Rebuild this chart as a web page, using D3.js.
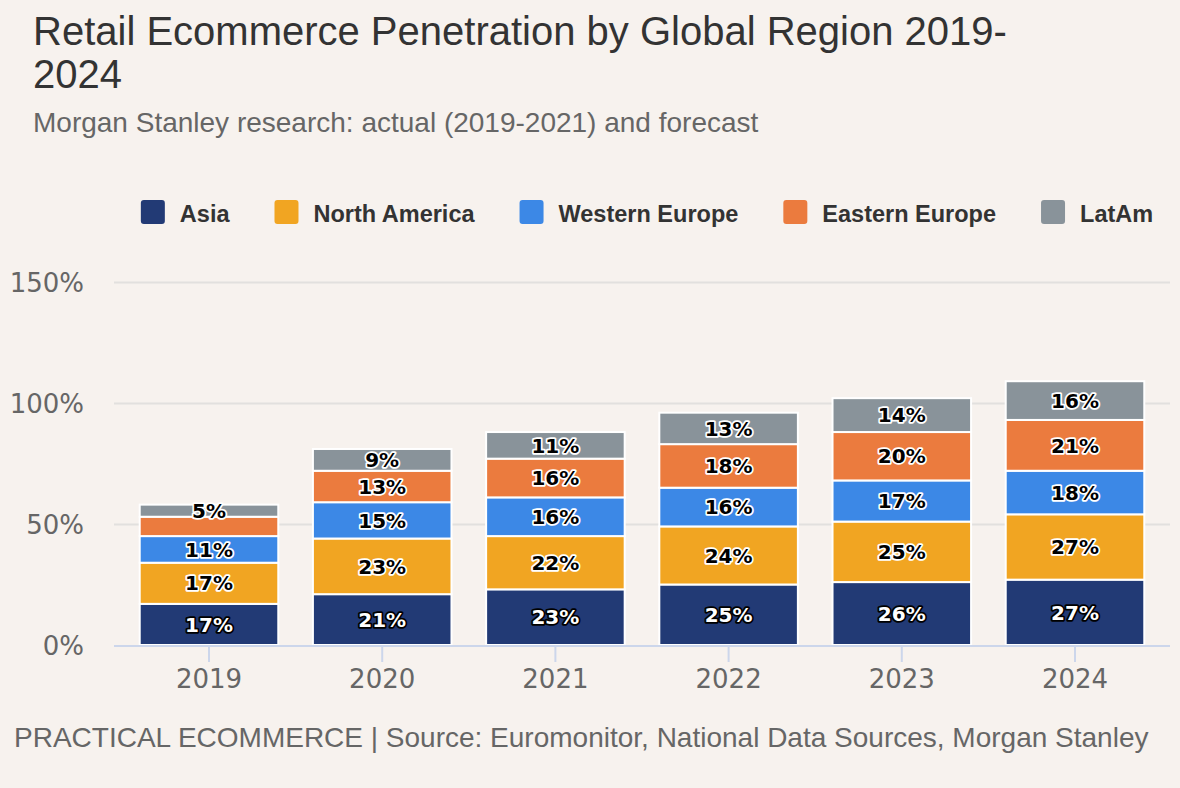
<!DOCTYPE html>
<html>
<head>
<meta charset="utf-8">
<script src="https://cdn.jsdelivr.net/npm/d3@7"></script>
<style>
  html, body { margin: 0; padding: 0; background: #f7f2ee; }
  svg { display: block; }
</style>
</head>
<body>
<svg id="chart" width="1180" height="788"></svg>
<script>
// ---- data ----
const years = ["2019", "2020", "2021", "2022", "2023", "2024"];
const seriesNames = ["Asia", "North America", "Western Europe", "Eastern Europe", "LatAm"];
const asia = [17, 21, 23, 25, 26, 27];
const northAmerica = [17, 23, 22, 24, 25, 27];
const westernEurope = [11, 15, 16, 16, 17, 18];
const easternEurope = [8, 13, 16, 18, 20, 21];
const latAm = [5, 9, 11, 13, 14, 16];
const yTicks = [0, 50, 100, 150];
const seriesColors = ["#223a75", "#f1a522", "#3c88e6", "#eb7b3e", "#89939a"];
const titleLines = ["Retail Ecommerce Penetration by Global Region 2019-", "2024"];
const subtitle = "Morgan Stanley research: actual (2019-2021) and forecast";
const footer = "PRACTICAL ECOMMERCE | Source: Euromonitor, National Data Sources, Morgan Stanley";

const seriesValues = [asia, northAmerica, westernEurope, easternEurope, latAm];
const rows = years.map((y, i) => {
  const r = { year: y };
  seriesNames.forEach((s, k) => r[s] = seriesValues[k][i]);
  return r;
});

const svg = d3.select("#chart");
svg.append("rect").attr("width", 1180).attr("height", 788).attr("fill", "#f7f2ee");

const plotLeft = 114, plotRight = 1170;
const x = d3.scaleBand().domain(years).range([122.4, 1161.6]).padding(0);
const y = d3.scaleLinear().domain([0, 150]).range([645, 282]);

// titles
const t = svg.append("text").attr("x", 33).attr("y", 45)
  .attr("font-family", "'Liberation Sans', Arial, sans-serif")
  .attr("font-size", 40).attr("fill", "#333333");
titleLines.forEach((l, i) => t.append("tspan").attr("x", 33).attr("dy", i === 0 ? 0 : 43).text(l));

svg.append("text").attr("x", 33).attr("y", 132)
  .attr("font-family", "'Liberation Sans', Arial, sans-serif")
  .attr("font-size", 28).attr("fill", "#666666").text(subtitle);

// gridlines
svg.append("g").selectAll("line").data(yTicks.filter(d => d > 0)).join("line")
  .attr("x1", plotLeft).attr("x2", plotRight)
  .attr("y1", d => Math.round(y(d)) + 0.5).attr("y2", d => Math.round(y(d)) + 0.5)
  .attr("stroke", "#e2e0de").attr("stroke-width", 2);

// y axis labels
const yAxis = d3.axisLeft(y).tickValues(yTicks).tickFormat(d => d + "%").tickSize(0).tickPadding(0);
const yg = svg.append("g").attr("transform", "translate(84,0)").call(yAxis);
yg.select(".domain").remove();
yg.selectAll("text").attr("font-family", "'DejaVu Sans', sans-serif").attr("font-size", 26)
  .attr("fill", "#666666").attr("dy", "0.36em");

// stacked bars
const stack = d3.stack().keys(seriesNames);
const stacked = stack(rows);
const barW = x.bandwidth() * 0.8;

const layers = svg.append("g").selectAll("g").data(stacked).join("g")
  .attr("fill", (d, i) => seriesColors[i]);
layers.selectAll("rect").data(d => d).join("rect")
  .attr("x", d => x(d.data.year) + (x.bandwidth() - barW) / 2)
  .attr("width", barW)
  .attr("y", d => y(d[1]))
  .attr("height", d => y(d[0]) - y(d[1]))
  .attr("stroke", "#ffffff").attr("stroke-width", 2);

// x axis
svg.append("line").attr("x1", plotLeft).attr("x2", plotRight).attr("y1", 646).attr("y2", 646)
  .attr("stroke", "#ccd6eb").attr("stroke-width", 2);
const xAxis = d3.axisBottom(x).tickSize(17).tickPadding(8);
const xg = svg.append("g").attr("transform", "translate(0,645)").call(xAxis);
xg.select(".domain").remove();
xg.selectAll(".tick line").attr("stroke", "#ccd6eb").attr("stroke-width", 2);
xg.selectAll("text").attr("font-family", "'DejaVu Sans', sans-serif").attr("font-size", 26)
  .attr("fill", "#666666");

// data labels with collision hiding (top series first)
const labelG = svg.append("g");
const placed = [];
const labelItems = [];
for (let k = stacked.length - 1; k >= 0; k--) {
  stacked[k].forEach(d => {
    const v = d[1] - d[0];
    const cx = x(d.data.year) + x.bandwidth() / 2;
    const cy = (y(d[0]) + y(d[1])) / 2;
    const box = { x0: cx - 26, x1: cx + 26, y0: cy - 11, y1: cy + 11 };
    const hit = placed.some(b => b.x0 < box.x1 && b.x1 > box.x0 && b.y0 < box.y1 && b.y1 > box.y0);
    if (!hit) { placed.push(box); labelItems.push({ k, v, cx, cy }); }
  });
}
labelG.selectAll("text").data(labelItems).join("text")
  .attr("x", d => d.cx).attr("y", d => d.cy).attr("dy", "0.36em")
  .attr("text-anchor", "middle")
  .attr("font-family", "'DejaVu Sans', sans-serif").attr("font-weight", "bold").attr("font-size", 20)
  .attr("fill", d => d.k === 0 ? "#ffffff" : "#000000")
  .attr("stroke", d => d.k === 0 ? "#000000" : "#ffffff")
  .attr("stroke-width", 3.5).attr("stroke-linejoin", "round")
  .attr("paint-order", "stroke")
  .text(d => d.v + "%");

// legend
const legend = svg.append("g");
const items = legend.selectAll("g").data(seriesNames).join("g");
items.append("rect").attr("width", 24).attr("height", 24).attr("rx", 3).attr("y", 200)
  .attr("fill", (d, i) => seriesColors[i]);
items.append("text").attr("x", 39).attr("y", 222)
  .attr("font-family", "'Liberation Sans', Arial, sans-serif").attr("font-weight", "bold")
  .attr("font-size", 23.5).attr("fill", "#333333").text(d => d);
let widths = [];
items.each(function () { widths.push(d3.select(this).select("text").node().getComputedTextLength()); });
const gap = 45;
const total = widths.reduce((a, w) => a + 24 + 15 + w, 0) + gap * (widths.length - 1);
let cur = 647 - total / 2;
items.attr("transform", (d, i) => { const tx = cur; cur += 24 + 15 + widths[i] + gap; return `translate(${tx},0)`; });

// footer
svg.append("text").attr("x", 14).attr("y", 747)
  .attr("font-family", "'Liberation Sans', Arial, sans-serif")
  .attr("font-size", 28).attr("fill", "#666666").text(footer);
</script>
</body>
</html>
